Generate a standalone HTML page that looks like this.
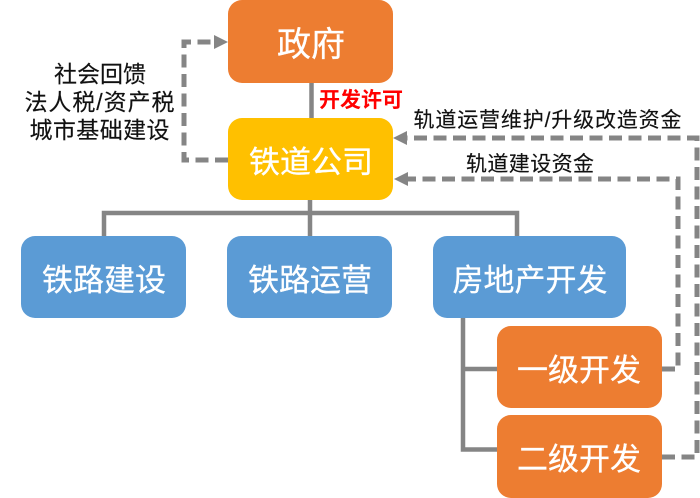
<!DOCTYPE html>
<html>
<head>
<meta charset="utf-8">
<style>
html,body{margin:0;padding:0;background:#fff;width:700px;height:498px;overflow:hidden}
svg{display:block;filter:blur(0.35px)}
text{font-family:"Liberation Sans","Noto Sans CJK SC",sans-serif;text-anchor:middle}
.w{fill:#fff;stroke:#fff;stroke-width:0.3}
.k{fill:#111;font-size:21px;stroke:#111;stroke-width:0.15}
.l{fill:#111;font-size:23px;stroke:#111;stroke-width:0.15}
</style>
</head>
<body>
<svg width="700" height="498" viewBox="0 0 700 498" xmlns="http://www.w3.org/2000/svg">
<g fill="none" stroke="#858585" stroke-width="4.500">
<path d="M311.500 82V118"/>
<path d="M310 200V237"/>
<path d="M104 237V213H517V237"/>
<path d="M463 318V449.500H497"/>
<path d="M463 369H497"/>
</g>
<g fill="none" stroke="#858585" stroke-width="5" stroke-dasharray="13 6.500">
<path d="M228 160H184V42H216"/>
<path d="M662 457H697V138H405"/>
<path d="M662 369H678V179H405"/>
</g>
<g fill="#858585">
<polygon points="228,42 214,35 214,49"/>
<polygon points="393,138 407,131 407,145"/>
<polygon points="394,179 408,172 408,186"/>
</g>
<rect x="228" y="0" width="165" height="83" rx="14" fill="#ed7d31"/>
<rect x="228" y="118" width="165" height="82" rx="14" fill="#ffc000"/>
<rect x="21" y="236" width="165" height="82" rx="14" fill="#5b9bd5"/>
<rect x="227" y="236" width="165" height="82" rx="14" fill="#5b9bd5"/>
<rect x="433" y="236" width="193" height="82" rx="14" fill="#5b9bd5"/>
<rect x="497" y="326" width="165" height="82" rx="14" fill="#ed7d31"/>
<rect x="497" y="415" width="165" height="83" rx="14" fill="#ed7d31"/>
<text class="w" x="311" y="56" font-size="34">政府</text>
<text class="w" x="311" y="173" font-size="31">铁道公司</text>
<text class="w" x="104" y="291" font-size="31">铁路建设</text>
<text class="w" x="310" y="291" font-size="31">铁路运营</text>
<text class="w" x="530" y="291" font-size="31">房地产开发</text>
<text class="w" x="579" y="381" font-size="31">一级开发</text>
<text class="w" x="579" y="470" font-size="31">二级开发</text>
<text class="l" x="100" y="82">社会回馈</text>
<text class="l" x="99.500" y="110" textLength="150" lengthAdjust="spacing">法人税/资产税</text>
<text class="l" x="99.500" y="138" textLength="140" lengthAdjust="spacing">城市基础建设</text>
<text x="361" y="107" font-size="21" font-weight="700" fill="#ff0000">开发许可</text>
<text class="k" x="547.500" y="127" textLength="268" lengthAdjust="spacing">轨道运营维护/升级改造资金</text>
<text class="k" x="530" y="171" textLength="128" lengthAdjust="spacing">轨道建设资金</text>
</svg>
</body>
</html>
